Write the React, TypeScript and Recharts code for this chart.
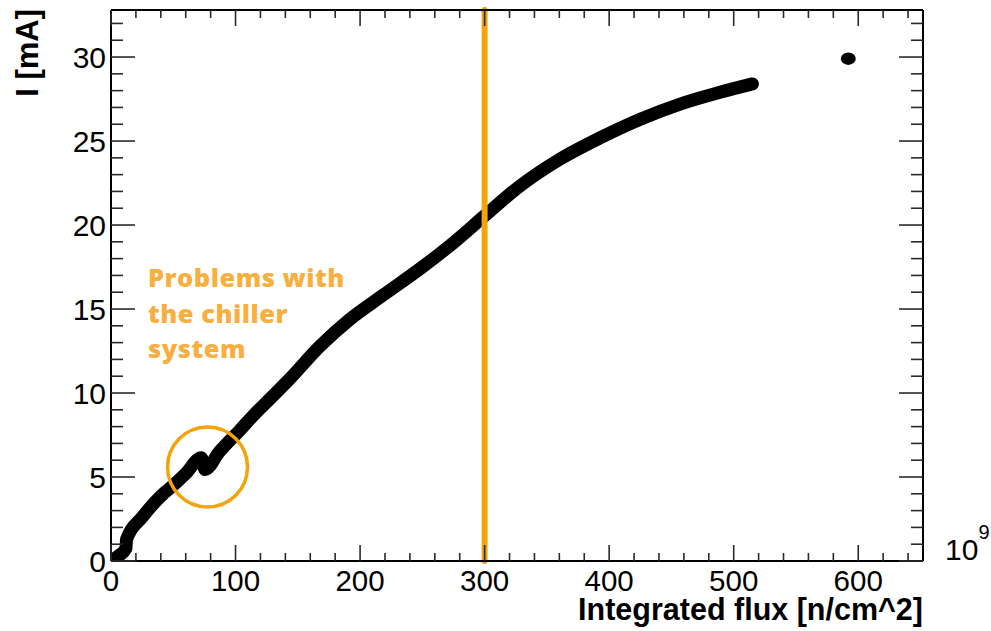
import React from 'react';
import {
  ComposedChart,
  Line,
  Scatter,
  XAxis,
  YAxis,
  ReferenceLine,
  ReferenceDot,
  Label,
} from 'recharts';

// Anode current versus integrated neutron flux (flux in units of 1e9 n/cm^2)
const fluxValues = [
  0, 6, 12, 12.5, 25, 42, 46, 60, 72.5, 75.5, 87, 103, 116, 127, 143, 168, 192,
  218, 250, 275, 300, 328, 360, 393, 425, 457, 489, 515,
];
const currentValues = [
  0, 0.3, 0.75, 1.3, 2.6, 4.0, 4.25, 5.2, 6.15, 5.45, 6.5, 7.75, 8.8, 9.6, 10.8,
  12.8, 14.4, 15.8, 17.5, 18.95, 20.55, 22.3, 23.9, 25.2, 26.3, 27.2, 27.9, 28.4,
];

// Last isolated measurement
const lateFlux = [592];
const lateCurrent = [29.9];

// Chiller incident marker and flux reference line
const chillerFlux = 77.5;
const chillerCurrent = 5.6;
const referenceFlux = 300;
const annotationLines = ['Problems with', 'the chiller', 'system'];

// Axis ranges and ticks
const xDomain = [0, 652];
const yDomain = [0, 32.8];
const xMajorTicks = [0, 100, 200, 300, 400, 500, 600];
const yMajorTicks = [0, 5, 10, 15, 20, 25, 30];
const xMinorStep = 20;
const yMinorStep = 1;

const xTitle = 'Integrated flux [n/cm^2]';
const yTitle = 'I [mA]';
const xExponent = '9';

const ORANGE = '#F5A30A';
const TEXT_ORANGE = '#F8AF40';
const TICK_COLOR = '#2a2a2a';
const NUM_FONT = '"Liberation Sans", Arial, Helvetica, sans-serif';

const W = 991;
const H = 631;
const LEFT = 111;
const RIGHT = 68;
const TOP = 10;
const BOTTOM = 70;

const steps = (max: number, step: number) => {
  const out: number[] = [];
  for (let v = 0; v <= max + 1e-9; v += step) out.push(Math.round(v * 1000) / 1000);
  return out;
};

const xTicks = steps(xDomain[1], xMinorStep);
const yTicks = steps(yDomain[1], yMinorStep);

const isMajor = (v: number, majors: number[]) => majors.some((m) => Math.abs(m - v) < 1e-6);

const curveData = fluxValues.map((flux, i) => ({ flux, current: currentValues[i] }));
const lateData = lateFlux.map((flux, i) => ({ flux, current: lateCurrent[i] }));

const BottomTick = (props: any) => {
  const { x, y, payload } = props;
  const major = isMajor(payload.value, xMajorTicks);
  return (
    <g>
      <line x1={x} x2={x} y1={y} y2={y - (major ? 16 : 8)} stroke={TICK_COLOR} strokeWidth={1.6} />
      {major && (
        <text x={x} y={y + 29.5} textAnchor="middle" fontFamily={NUM_FONT} fontSize={29.5} fill="#000">
          {payload.value}
        </text>
      )}
    </g>
  );
};

const TopTick = (props: any) => {
  const { x, y, payload } = props;
  const major = isMajor(payload.value, xMajorTicks);
  return <line x1={x} x2={x} y1={y} y2={y + (major ? 16 : 8)} stroke={TICK_COLOR} strokeWidth={1.6} />;
};

const LeftTick = (props: any) => {
  const { x, y, payload } = props;
  const major = isMajor(payload.value, yMajorTicks);
  return (
    <g>
      <line x1={x} x2={x + (major ? 24 : 12)} y1={y} y2={y} stroke={TICK_COLOR} strokeWidth={1.6} />
      {major && (
        <text x={x - 5} y={y + 10.5} textAnchor="end" fontFamily={NUM_FONT} fontSize={30} fill="#000">
          {payload.value}
        </text>
      )}
    </g>
  );
};

const RightTick = (props: any) => {
  const { x, y, payload } = props;
  const major = isMajor(payload.value, yMajorTicks);
  return <line x1={x} x2={x - (major ? 24 : 12)} y1={y} y2={y} stroke={TICK_COLOR} strokeWidth={1.6} />;
};

const XTitle = () => (
  <g>
    <text
      x={W - RIGHT}
      y={620}
      textAnchor="end"
      fontFamily={NUM_FONT}
      fontWeight="bold"
      fontSize={30.5}
      fill="#000"
    >
      {xTitle}
    </text>
    <text x={945} y={560} fontFamily={NUM_FONT} fontSize={30} fill="#000">
      10
      <tspan fontSize={20} dy={-21}>
        {xExponent}
      </tspan>
    </text>
    {annotationLines.map((line, i) => (
      <text
        key={line}
        x={148}
        y={287 + i * 35.5}
        fontFamily='"Open Sans", Lato, sans-serif'
        fontWeight={800}
        fontSize={25.5}
        letterSpacing={0.5}
        fill={TEXT_ORANGE}
      >
        {line}
      </text>
    ))}
  </g>
);

const YTitle = () => (
  <text
    x={38}
    y={9}
    transform="rotate(-90 38 9)"
    textAnchor="end"
    fontFamily={NUM_FONT}
    fontWeight="bold"
    fontSize={31}
    fill="#000"
  >
    {yTitle}
  </text>
);

const LatePoint = (props: any) => <ellipse cx={props.cx} cy={props.cy} rx={7.5} ry={6.2} fill="#000" />;

export default function App() {
  return (
    <div style={{ position: 'absolute', left: 0, top: 0, width: W, height: H, background: '#fff' }}>
      <ComposedChart width={W} height={H} margin={{ top: 0, right: 0, bottom: 0, left: 0 }}>
        <XAxis
          xAxisId="bottom"
          dataKey="flux"
          type="number"
          orientation="bottom"
          domain={xDomain}
          allowDataOverflow
          ticks={xTicks}
          interval={0}
          height={BOTTOM}
          tickSize={0}
          tickMargin={0}
          tickLine={false}
          tick={<BottomTick />}
          axisLine={{ stroke: '#000', strokeWidth: 2 }}
        >
          <Label content={<XTitle />} />
        </XAxis>
        <XAxis
          xAxisId="top"
          dataKey="flux"
          type="number"
          orientation="top"
          domain={xDomain}
          allowDataOverflow
          ticks={xTicks}
          interval={0}
          height={TOP}
          tickSize={0}
          tickMargin={0}
          tickLine={false}
          tick={<TopTick />}
          axisLine={{ stroke: '#000', strokeWidth: 2 }}
        />
        <YAxis
          yAxisId="left"
          dataKey="current"
          type="number"
          orientation="left"
          domain={yDomain}
          allowDataOverflow
          ticks={yTicks}
          interval={0}
          width={LEFT}
          tickSize={0}
          tickMargin={0}
          tickLine={false}
          tick={<LeftTick />}
          axisLine={{ stroke: '#000', strokeWidth: 2 }}
        >
          <Label content={<YTitle />} />
        </YAxis>
        <YAxis
          yAxisId="right"
          dataKey="current"
          type="number"
          orientation="right"
          domain={yDomain}
          allowDataOverflow
          ticks={yTicks}
          interval={0}
          width={RIGHT}
          tickSize={0}
          tickMargin={0}
          tickLine={false}
          tick={<RightTick />}
          axisLine={{ stroke: '#000', strokeWidth: 2 }}
        />
        <ReferenceDot
          xAxisId="bottom"
          yAxisId="left"
          x={chillerFlux}
          y={chillerCurrent}
          r={40}
          fill="none"
          stroke={ORANGE}
          strokeWidth={3.5}
        />
        <Line
          xAxisId="bottom"
          yAxisId="left"
          data={curveData}
          dataKey="current"
          type="monotone"
          stroke="#000"
          strokeWidth={13}
          strokeLinecap="round"
          strokeLinejoin="round"
          dot={false}
          activeDot={false}
          isAnimationActive={false}
        />
        <Scatter
          xAxisId="bottom"
          yAxisId="left"
          data={lateData}
          dataKey="current"
          shape={<LatePoint />}
          isAnimationActive={false}
        />
        <ReferenceLine
          xAxisId="bottom"
          yAxisId="left"
          x={referenceFlux}
          stroke={ORANGE}
          strokeWidth={6}
          strokeLinecap="round"
        />
      </ComposedChart>
    </div>
  );
}
